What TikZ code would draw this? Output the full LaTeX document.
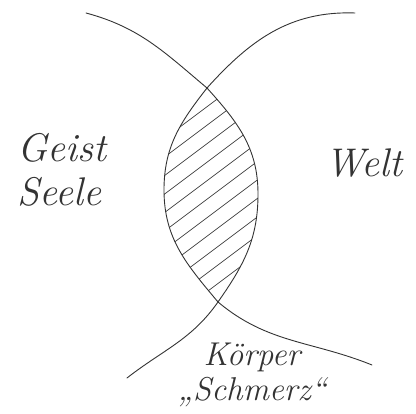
\documentclass[tikz,border=0pt]{standalone}
\usepackage{fontspec}
\usepackage{tikz}

\begin{document}
\begin{tikzpicture}[
        x=1pt, y=1pt,
        sketch/.style={draw=black!80, line width=0.9pt, line cap=round},
        hatch/.style={draw=black!75, line width=0.7pt, line cap=round},
        hand/.style={font=\fontsize{40}{44}\selectfont\itshape, text=black!80, align=left, inner sep=0pt}
    ]
    \useasboundingbox (0,0) rectangle (416,414);

    % ==========================================
    % Schnittpunkte und Ränder der Linse
    % ==========================================
    \coordinate (top) at (207,326);
    \coordinate (bot) at (218,112);
    \coordinate (rgt) at (258,220);
    \coordinate (lft) at (164,224);

    % Schraffur der Linse (geclippt)
    \begin{scope}
        \clip (top) to[out=-48,in=90] (rgt) to[out=-90,in=55] (bot)
              to[out=130,in=-90] (lft) to[out=90,in=-128] (top);
        \foreach \k in {0,...,12} {
            \path[hatch] (150, 61+\k*18.5) -- ++(36.87:160);
        }
    \end{scope}

    % Bogen ")" von links oben nach links unten
    \path[sketch] (86,401) to[out=-15,in=140] (top) to[out=-48,in=90] (rgt)
                  to[out=-90,in=55] (bot) to[out=-125,in=38] (127,36);
    % Bogen "(" von rechts oben nach rechts unten
    \path[sketch] (355,401) to[out=178,in=48] (top) to[out=-128,in=90] (lft)
                  to[out=-90,in=130] (bot) to[out=-40,in=158] (372,49);

    % ==========================================
    % Beschriftungen
    % ==========================================
    \node[hand] (geist) at (62,244) {Geist\\Seele};
    \node[hand] (welt) at (364,251) {Welt};
    \node[hand, font=\fontsize{33}{35}\selectfont\itshape, align=center] (koerper)
        at (252,39) {Körper\\„Schmerz“};

\end{tikzpicture}
\end{document}
